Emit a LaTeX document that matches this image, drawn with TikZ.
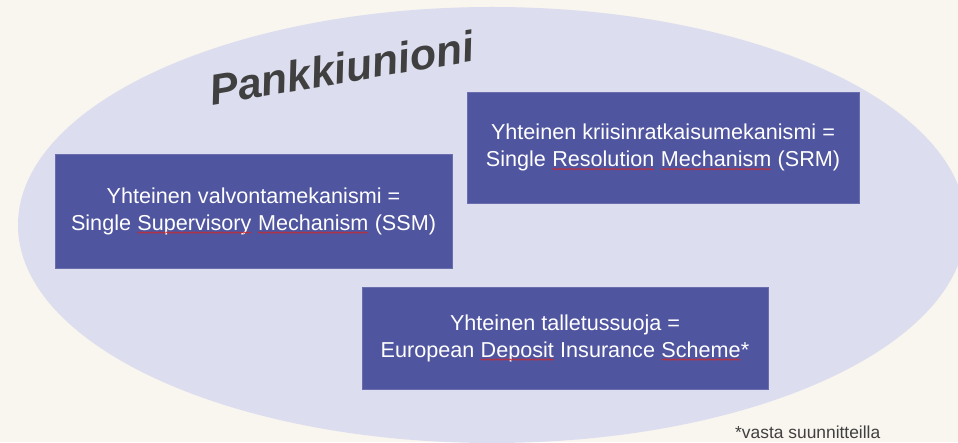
\documentclass[tikz,border=0pt]{standalone}
\usepackage{fontspec}
\setmainfont{Liberation Sans}
\usepackage{xcolor}
\definecolor{cream}{HTML}{F9F5EF}
\definecolor{lavender}{HTML}{DCDDEE}
\definecolor{unionblue}{HTML}{50559F}
\definecolor{titlegray}{HTML}{404040}
\definecolor{spellred}{HTML}{D02828}
\usepackage{tikz}
\usetikzlibrary{decorations.pathmorphing}
% red spell-check wave under a word
\newcommand{\spell}[1]{\tikz[baseline=(sw.base)]{%
  \node[inner sep=0pt, outer sep=0pt, minimum width=0pt, minimum height=0pt,
    draw=none, fill=none, text=white, align=left] (sw) {#1};
  \draw[spellred, fill=none, line width=0.6pt, decorate,
    decoration={snake, amplitude=0.7pt, segment length=2.6pt}]
    ([yshift=-2.5pt]sw.base west) -- ([yshift=-2.5pt]sw.base east);}}

\begin{document}
\begin{tikzpicture}[x=1pt, y=1pt,
  pillar/.style={fill=unionblue, draw=unionblue!85!white, line width=0.6pt,
    text=white, align=center, inner sep=0pt,
    font=\fontsize{21.6}{27}\selectfont}]
  % --- Background and the union ellipse ---
  \useasboundingbox (0,0) rectangle (958,442);
  \fill[cream] (0,0) rectangle (958,442);
  \begin{scope}
    \clip (0,0) rectangle (958,442);
    \fill[lavender] (492,217) ellipse [x radius=474pt, y radius=218pt];
  \end{scope}

  % Title
  \node[anchor=base, rotate=9.5, text=titlegray,
    font=\fontsize{43}{50}\selectfont\bfseries\itshape] (title) at (344,359) {Pankkiunioni};

  % --- Three pillars ---
  \node[pillar, minimum width=392pt, minimum height=111pt] (srm) at (663,294.5)
    {Yhteinen kriisinratkaisumekanismi =\\
     Single \spell{Resolution} \spell{Mechanism} (SRM)};
  \node[pillar, minimum width=397pt, minimum height=114pt] (ssm) at (253.5,231)
    {Yhteinen valvontamekanismi =\\
     Single \spell{Supervisory} \spell{Mechanism} (SSM)};
  \node[pillar, minimum width=406pt, minimum height=102pt] (edis) at (565,104)
    {Yhteinen talletussuoja =\\
     European \spell{Deposit} Insurance \spell{Scheme}*};

  % Footnote
  \node[anchor=base west, inner sep=0pt, text=titlegray,
    font=\fontsize{17.4}{20}\selectfont] (note) at (735,4) {*vasta suunnitteilla};
\end{tikzpicture}
\end{document}
